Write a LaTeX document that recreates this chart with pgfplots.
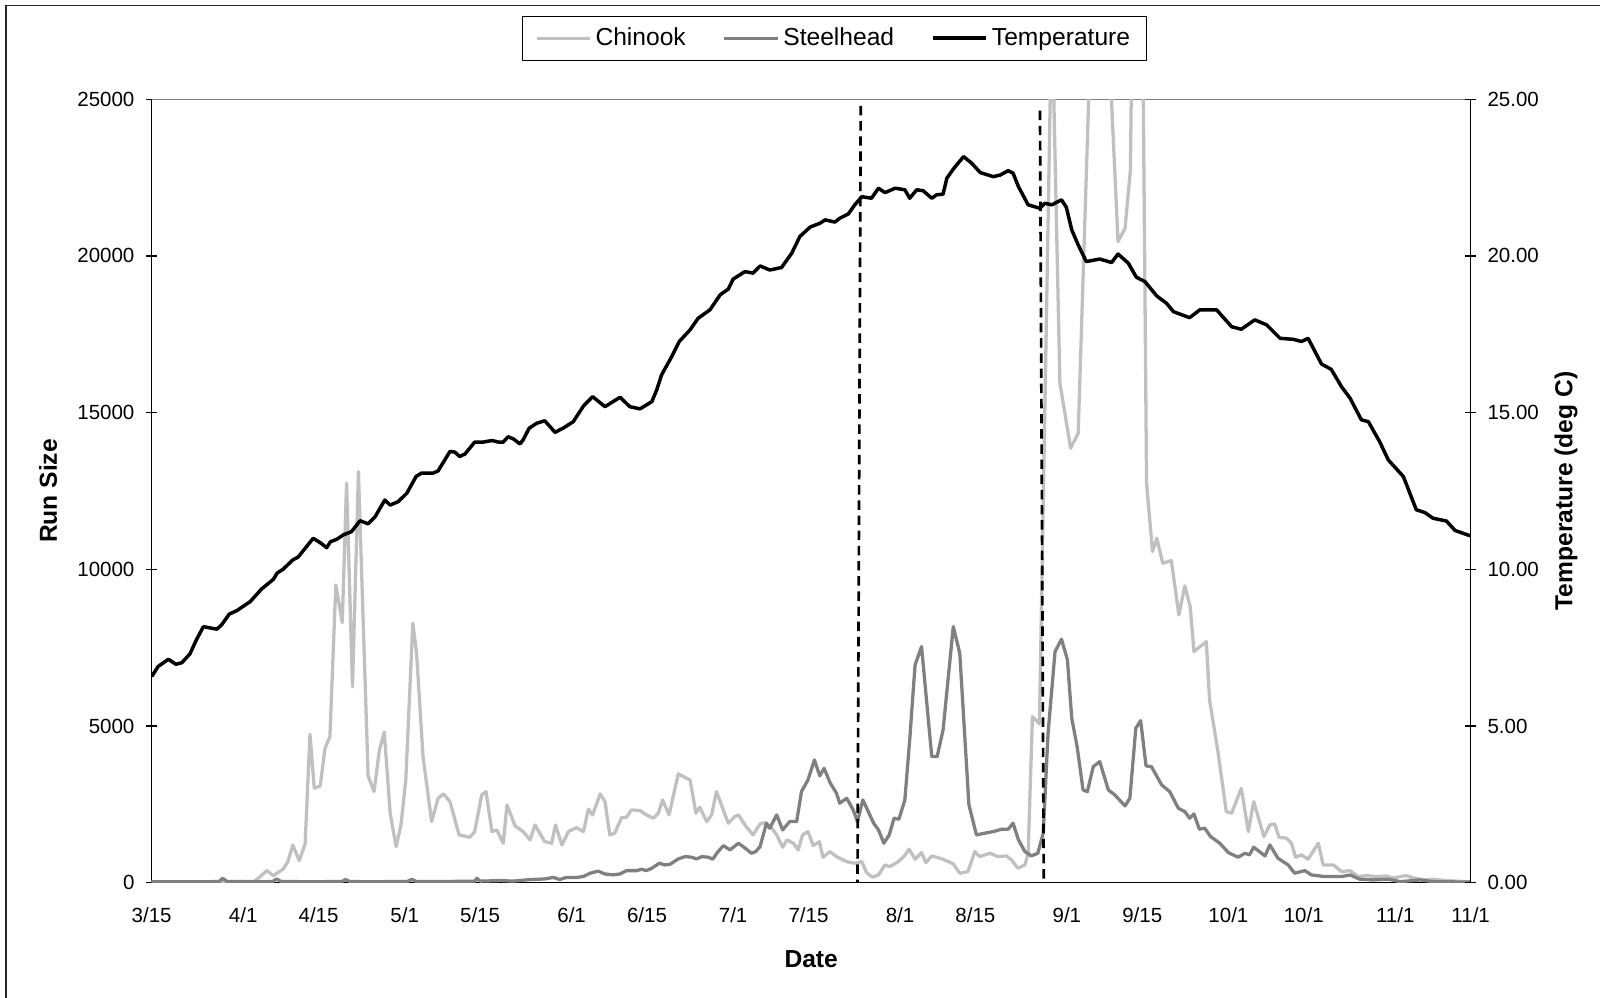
\documentclass[border=0pt]{standalone}
\usepackage{fontspec}
\setmainfont{Liberation Sans}
\usepackage{pgfplots}
\pgfplotsset{compat=1.18}
\definecolor{chin}{RGB}{192,192,192}
\definecolor{steel}{RGB}{128,128,128}
\begin{document}
\begin{tikzpicture}
\path[use as bounding box] (-74pt,-56.2pt) rectangle (706.5pt,430.6pt);
\draw[line width=0.75pt, black!85] (-71.2pt,-60pt) -- (-71.2pt,427.9pt) -- (712pt,427.9pt);
\begin{axis}[
 at={(0pt,0pt)}, anchor=south west,
 scale only axis, width=643.4pt, height=382.2pt,
 xmin=0, xmax=245, ymin=0, ymax=25000,
 scaled y ticks=false,
 axis x line*=bottom, axis y line*=left,
 axis line style={-, black, line width=0.6pt},
 xtick={0,17,31,47,61,78,92,108,122,139,153,170,184,200,214,231,245},
 xticklabels={3/15,4/1,4/15,5/1,5/15,6/1,6/15,7/1,7/15,8/1,8/15,9/1,9/15,10/1,10/1,11/1,11/1},
 xtick style={draw=none},
 ytick={0,5000,10000,15000,20000,25000},
 yticklabels={0,5000,10000,15000,20000,25000},
 tick align=center, major tick length=5.2pt,
 ytick style={black, line width=0.6pt},
 yticklabel style={xshift=-2.3pt},
 xticklabel style={yshift=-6pt},
 xlabel={Date}, ylabel={Run Size},
 xlabel style={at={(axis description cs:0.5,-0.0973)}, anchor=center, font=\fontsize{12}{14}\selectfont\bfseries},
 ylabel style={at={(axis description cs:-0.0786,0.5)}, anchor=center, font=\fontsize{12}{14}\selectfont\bfseries},
 line join=round,
]
\draw[gray, line width=0.6pt] (rel axis cs:0,1) -- (rel axis cs:1,1);
% Chinook
\addplot[chin, line width=1.6pt, no markers] coordinates {
(0,30) (5,30) (10,30) (15,30) (19,40) (19.8,144) (21.4,386) (22.6,227) (24.4,431) (25.3,673)
(26.2,1206) (27.4,705) (28.5,1238) (29.4,4738) (30.2,3015) (31.3,3089) (32.2,4292) (33.1,4662)
(34.2,9502) (35.4,8300) (36.2,12748) (37.3,6257) (38.4,13118) (40.2,3408) (41.3,2907) (42.3,4237)
(43.2,4802) (44.3,2218) (45.4,1152) (46.3,1844) (47.2,3280) (48.5,8280) (49.2,7323) (50.4,4024)
(52,1950) (53.2,2696) (54.2,2834) (55.4,2588) (57.1,1525) (59.1,1452) (60,1631) (61.3,2802)
(62.1,2907) (63.2,1631) (64.1,1685) (65.3,1260) (66,2483) (67.5,1812) (69,1631) (70.3,1366)
(71.2,1844) (73,1311) (74.3,1260) (75,1844) (76.2,1206) (77.4,1631) (78.9,1758) (80.2,1631)
(81.1,2345) (81.9,2163) (83.3,2834) (84.2,2588) (85.1,1525) (86,1579) (87.3,2077) (88.2,2090)
(89.1,2323) (90.7,2301) (91.9,2163) (93.2,2058) (94.1,2218) (94.9,2642) (96.1,2163) (97.8,3472)
(100,3280) (101.1,2218) (101.8,2409) (103.1,1950) (104,2163) (104.9,2907) (107.1,1899) (108.3,2109)
(109,2163) (110.2,1844) (111.7,1525) (113,1876) (113.9,1918) (115.2,1739) (116.1,1525) (117.2,1133)
(118,1366) (119.2,1260) (120.1,1047) (120.9,1525) (121.9,1631) (122.9,1184) (124,1311) (124.7,814)
(126,992) (127.2,833) (129.1,673) (130.6,622) (131.9,673) (132.8,322) (133.9,175) (135,249)
(136.2,568) (137.1,514) (138.7,673) (139.7,833) (140.7,1069) (141.8,750) (143,960) (143.8,641)
(144.9,855) (147,750) (148.9,600) (150.1,303) (151.6,354) (152.9,992) (153.8,833) (155.7,941)
(157.2,833) (158.8,855) (159.7,728) (160.9,463) (162.2,568) (162.8,941) (163.6,5300) (164.9,5067)
(167.2,28000) (168.7,15938) (170.7,13864) (172.1,14343) (174.5,27500) (176.2,30000) (177.6,27500)
(179.5,20457) (180.8,20884) (181.8,22745) (182.6,35000) (183.7,35000) (184.8,12748) (185.9,10566)
(186.7,10992) (187.8,10195) (189.4,10278) (190.8,8545) (191.9,9471) (192.9,8811) (193.6,7375)
(195.9,7694) (196.5,5833) (198.1,4132) (199.6,2269) (200.6,2218) (202.4,3015) (203.7,1631)
(204.7,2588) (206.6,1471) (207.7,1844) (208.6,1876) (209.4,1452) (210.8,1420) (211.7,1260)
(212.5,814) (213.6,887) (214.8,750) (216.7,1260) (217.6,568) (219.5,568) (221,354) (222.6,386)
(224.1,195) (225.7,227) (227.5,195) (229.4,217) (230.5,150) (233,227) (234.6,144) (236.4,89)
(238,112) (240.5,67) (244.2,35) (245,30)
};
% Steelhead
\addplot[steel, line width=1.6pt, no markers] coordinates {
(0,30) (5,30) (10,30) (12.5,40) (13.2,140) (14,40) (20,30) (22.5,40) (23.2,120) (24,40)
(30,30) (35.3,40) (36,100) (36.8,40) (40,30) (47.5,40) (48.3,110) (49.1,40) (55,40) (60,50)
(60.4,144) (61,50) (65,70) (67,50) (70.3,100) (73,120) (74.6,170) (75.8,100) (77,170) (79,170)
(80.2,200) (81.4,300) (82.9,370) (84.2,280) (85.7,250) (87,281) (88.2,386) (90.1,386) (91,431)
(91.9,386) (92.9,463) (94.3,622) (95.3,568) (96.3,590) (97.8,759) (99.1,833) (100.3,814)
(101.2,759) (102.2,833) (103.4,814) (104.2,750) (105.2,992) (106.2,1184) (107.4,1047) (109,1260)
(110,1133) (111.4,941) (112.2,992) (113,1152) (114.2,1899) (114.8,1739) (116.1,2163) (117.2,1685)
(118.5,1950) (119.8,1950) (120.7,2907) (121.9,3280) (123.1,3918) (124.1,3408) (124.9,3653)
(126,3194) (127.2,2856) (127.8,2537) (129.1,2696) (130.3,2323) (131.1,1950) (132.1,2642)
(134.1,1899) (135,1685) (136,1260) (137,1525) (137.9,2058) (138.8,2026) (139.9,2642) (140.8,4556)
(141.8,6950) (143,7534) (144.9,4024) (145.9,4024) (147,4876) (148.9,8172) (150.1,7323) (151.8,2483)
(153.2,1525) (154.7,1579) (156.3,1631) (157.9,1707) (159.1,1707) (160,1899) (161,1366) (162.2,992)
(163.4,855) (164.6,941) (165.6,1579) (166.5,4770) (167.8,7375) (169,7770) (170.1,7109) (170.9,5249)
(171.9,4343) (173,2961) (173.8,2907) (174.9,3705) (176.1,3864) (177.7,2961) (178.9,2802)
(180.8,2451) (181.7,2696) (182.8,4930) (183.7,5173) (184.7,3727) (185.7,3705) (187.6,3121)
(189.1,2907) (190.7,2377) (191.9,2269) (192.8,2058) (193.6,2195) (194.6,1707) (195.6,1739)
(196.7,1471) (198.4,1260) (200,960) (201.8,814) (203.1,941) (203.9,887) (204.7,1133) (206.8,855)
(207.7,1206) (209.2,782) (211.1,568) (212.3,303) (214.2,386) (215.4,249) (217.9,195) (221,195)
(222.6,249) (224.4,112) (226.9,89) (229.7,112) (231.9,35) (235.6,89) (238,35) (245,20)
};
\draw[black, line width=1.3pt, dash pattern=on 4.6pt off 2.8pt] (axis cs:131.7,24786) -- (axis cs:131.1,0);
\draw[black, line width=1.3pt, dash pattern=on 4.6pt off 2.8pt] (axis cs:165.0,24636) -- (axis cs:165.7,0);
\end{axis}
\begin{axis}[
 at={(0pt,0pt)}, anchor=south west,
 scale only axis, width=643.4pt, height=382.2pt,
 xmin=0, xmax=245, ymin=0, ymax=25,
 axis x line=none, axis y line*=right,
 axis line style={-, black, line width=0.6pt},
 ytick={0,5,10,15,20,25},
 yticklabels={0.00,5.00,10.00,15.00,20.00,25.00},
 tick align=center, major tick length=5.2pt,
 ytick style={black, line width=0.6pt},
 yticklabel style={xshift=2.1pt},
 ylabel={Temperature (deg C)},
 ylabel style={at={(axis description cs:1.0723,0.5)}, anchor=center, font=\fontsize{12}{14}\selectfont\bfseries},
 legend columns=3,
 legend style={at={(0.5177,1.0779)}, anchor=center, draw=black, line width=0.5pt,
   font=\fontsize{12}{14}\selectfont, inner xsep=6pt, inner ysep=3.6pt,
   /tikz/every even column/.append style={column sep=16pt}},
 legend cell align=left,
 legend image code/.code={\draw[#1] (0pt,0pt) -- (26pt,0pt);},
 line join=round,
]
\addlegendimage{chin, line width=1.6pt}
\addlegendentry{Chinook}
\addlegendimage{steel, line width=1.6pt}
\addlegendentry{Steelhead}
\addplot[black, line width=1.7pt, no markers] coordinates {
(0,6.58) (1.2,6.90) (3.1,7.13) (4.5,6.97) (5.6,7.02) (7.1,7.30) (8.3,7.75) (9.6,8.17) (12.1,8.09)
(13,8.23) (14.4,8.57) (15.8,8.68) (18.3,8.97) (20.4,9.37) (22.6,9.68) (23.3,9.88) (24.4,10.0)
(26.2,10.30) (27.2,10.39) (30,10.99) (31.3,10.85) (32.5,10.69) (33.2,10.88) (34.4,10.96)
(35.6,11.10) (37.1,11.20) (38.7,11.55) (40.2,11.45) (41.5,11.68) (43.3,12.21) (44.3,12.05)
(45.8,12.16) (47.4,12.43) (49.1,12.96) (50.1,13.07) (52.3,13.07) (53.2,13.14) (55.4,13.76)
(56.3,13.74) (57.2,13.60) (58.2,13.68) (60.0,14.06) (61.6,14.06) (63.2,14.11) (64.4,14.06)
(65.3,14.06) (66.2,14.23) (67.2,14.16) (68.4,14.00) (69.0,14.13) (70.1,14.50) (71.5,14.66)
(73.0,14.74) (74.0,14.55) (74.9,14.37) (76.4,14.50) (78.3,14.71) (80.2,15.21) (81.9,15.51)
(84.2,15.19) (87.0,15.49) (88.8,15.19) (90.7,15.12) (92.9,15.35) (93.8,15.72) (94.7,16.20)
(96.6,16.79) (98.0,17.27) (100,17.64) (101.5,18.01) (103.7,18.28) (105.6,18.76) (107.1,18.94)
(108,19.26) (110.2,19.50) (111.7,19.45) (113,19.68) (114.8,19.55) (117,19.63) (118.9,20.09)
(120.4,20.62) (122.3,20.92) (124.1,21.04) (125.1,21.15) (126.9,21.08) (127.8,21.20) (129.4,21.34)
(130.6,21.63) (131.9,21.89) (133.7,21.84) (135,22.16) (136.2,22.02) (138.1,22.16) (139.9,22.11)
(140.8,21.84) (142.1,22.11) (143.3,22.08) (144.9,21.84) (145.8,21.95) (147,21.97) (147.7,22.48)
(148.9,22.77) (150.8,23.17) (152.3,22.96) (153.9,22.66) (156.3,22.53) (157.6,22.58) (159.1,22.72)
(160,22.64) (161,22.21) (162.8,21.63) (165,21.52) (165.9,21.68) (167.2,21.63) (169,21.79)
(169.9,21.55) (170.9,20.83) (172.1,20.35) (173.6,19.82) (176.1,19.90) (178.3,19.79) (179.5,20.06)
(181.4,19.77) (182.9,19.32) (184.5,19.18) (186.7,18.72) (188.5,18.49) (189.8,18.22) (192.8,18.03)
(194.7,18.28) (197.8,18.28) (200.6,17.74) (202.4,17.66) (204.9,17.96) (207.1,17.80) (209.6,17.37)
(212,17.34) (213.6,17.27) (214.8,17.37) (217.3,16.55) (219.1,16.38) (221,15.83) (222.6,15.46)
(224.7,14.77) (226,14.71) (228.1,14.07) (229.7,13.49) (232.5,12.96) (234.9,11.90) (236.5,11.81)
(238,11.63) (240.5,11.54) (242.1,11.24) (244.9,11.07)
};
\addlegendentry{Temperature}
\end{axis}
\end{tikzpicture}
\end{document}
